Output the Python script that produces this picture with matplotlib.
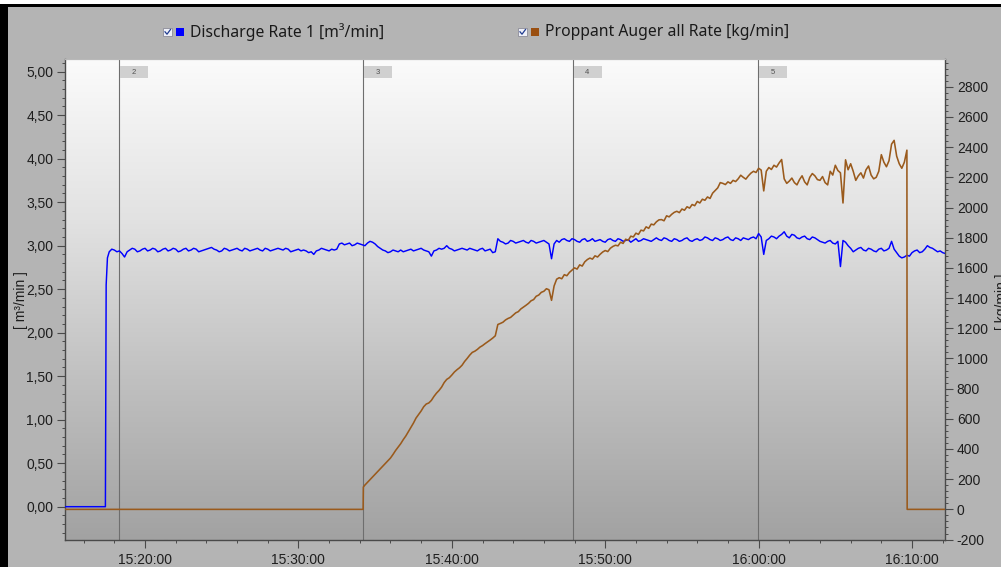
import numpy as np
import pandas as pd
import matplotlib
matplotlib.use("Agg")
import matplotlib.pyplot as plt
import matplotlib.dates as mdates
from matplotlib.patches import Rectangle
from matplotlib.lines import Line2D
from matplotlib.transforms import IdentityTransform
from matplotlib.ticker import MultipleLocator, FuncFormatter
from matplotlib.colors import LinearSegmentedColormap

plt.rcParams["font.family"] = ["Liberation Sans", "DejaVu Sans"]

DAY = "2024-05-14 "

# ---------------- data ----------------
x_start = "15:14:47"
x_end = "16:12:09"
sample_step = "10s"

# Discharge Rate 1 [m3/min]
discharge_lead_times = ["15:14:47", "15:17:25", "15:17:28", "15:17:33"]
discharge_lead_values = [0.0, 0.0, 2.55, 2.86]
discharge_grid_start = "15:17:40"
discharge_values = [
    2.93, 2.96, 2.95, 2.93, 2.94, 2.91,  2.87, 2.93, 2.95, 2.97, 2.96, 2.93,
    2.94, 2.96, 2.97, 2.94, 2.95, 2.97,  2.96, 2.93, 2.94, 2.96, 2.97, 2.94,
    2.95, 2.97, 2.96, 2.93, 2.94, 2.96,  2.97, 2.94, 2.95, 2.97, 2.96, 2.93,
    2.94, 2.95, 2.96, 2.97, 2.98, 2.96,  2.95, 2.93, 2.94, 2.97, 2.96, 2.94,
    2.95, 2.96, 2.97, 2.95, 2.94, 2.97,  2.96, 2.94, 2.95, 2.96, 2.97, 2.95,
    2.94, 2.97, 2.96, 2.94, 2.95, 2.96,  2.97, 2.96, 2.95, 2.97, 2.96, 2.93,
    2.94, 2.95, 2.96, 2.94, 2.95, 2.94,  2.92, 2.93, 2.90, 2.94, 2.95, 2.97,
    2.96, 2.95, 2.94, 2.96, 2.95, 2.96,  3.02, 3.03, 3.01, 3.02, 3.03, 3.00,
    3.01, 3.03, 3.02, 3.01, 3.00, 3.03,  3.05, 3.04, 3.02, 2.99, 2.97, 2.95,
    2.94, 2.92, 2.93, 2.95, 2.94, 2.93,  2.95, 2.93, 2.94, 2.95, 2.96, 2.94,
    2.95, 2.96, 2.97, 2.95, 2.94, 2.93,  2.88, 2.94, 2.95, 2.97, 2.96, 2.97,
    3.00, 2.97, 2.96, 2.94, 2.95, 2.96,  2.97, 2.96, 2.95, 2.97, 2.96, 2.95,
    2.94, 2.96, 2.97, 2.94, 2.95, 2.96,  2.92, 2.93, 3.08, 3.05, 3.04, 3.02,
    3.03, 3.06, 3.05, 3.03, 3.04, 3.05,  3.06, 3.04, 3.03, 3.06, 3.05, 3.03,
    3.04, 3.05, 3.06, 3.04, 3.02, 2.85,  3.02, 3.06, 3.04, 3.07, 3.08, 3.06,
    3.05, 3.08, 3.07, 3.05, 3.04, 3.07,  3.08, 3.05, 3.06, 3.08, 3.05, 3.06,
    3.07, 3.05, 3.04, 3.07, 3.08, 3.06,  3.05, 3.08, 3.07, 3.05, 3.06, 3.07,
    3.04, 3.06, 3.08, 3.05, 3.06, 3.08,  3.07, 3.06, 3.05, 3.07, 3.09, 3.07,
    3.06, 3.09, 3.08, 3.06, 3.05, 3.08,  3.07, 3.05, 3.06, 3.08, 3.09, 3.06,
    3.05, 3.07, 3.08, 3.06, 3.07, 3.10,  3.09, 3.07, 3.06, 3.09, 3.08, 3.06,
    3.07, 3.09, 3.10, 3.07, 3.06, 3.09,  3.08, 3.06, 3.09, 3.08, 3.07, 3.09,
    3.10, 3.08, 3.14, 3.10, 2.90, 3.06,  3.08, 3.11, 3.10, 3.08, 3.11, 3.13,
    3.16, 3.11, 3.09, 3.13, 3.12, 3.09,  3.08, 3.10, 3.11, 3.08, 3.07, 3.10,
    3.09, 3.07, 3.05, 3.04, 3.03, 3.05,  3.06, 3.03, 3.02, 3.05, 2.76, 3.06,
    3.04, 3.00, 2.97, 2.93, 2.95, 2.97,  2.98, 2.95, 2.94, 2.97, 2.96, 2.94,
    2.93, 2.96, 2.97, 2.94, 2.95, 2.97,  3.05, 2.96, 2.92, 2.88, 2.86, 2.87,
    2.89, 2.88, 2.92, 2.94, 2.95, 2.92,  2.93, 2.96, 3.00, 2.98, 2.97, 2.95,
    2.93, 2.94, 2.92, 2.91, 2.91, 2.90,
]

# Proppant Auger all Rate [kg/min]
proppant_lead_times = ["15:14:47", "15:34:13", "15:34:14"]
proppant_lead_values = [0.0, 0.0, 148.0]
proppant_grid_start = "15:34:20"
proppant_values = [
    161, 179, 197, 214,
    232, 250, 268, 286, 304, 322,
    340, 364, 390, 412, 435, 462,
    486, 515, 545, 572, 605, 628,
    652, 680, 698, 705, 722, 748,
    770, 788, 810, 840, 861, 872,
    890, 910, 925, 938, 955, 980,
    1000, 1022, 1040, 1048, 1060, 1075,
    1085, 1098, 1110, 1122, 1135, 1150,
    1225, 1232, 1240, 1255, 1265, 1272,
    1287, 1302, 1310, 1328, 1340, 1352,
    1365, 1382, 1390, 1412, 1420, 1438,
    1445, 1462, 1455, 1385, 1480, 1525,
    1535, 1528, 1555, 1548, 1570, 1585,
    1600, 1592, 1620, 1612, 1640, 1655,
    1665, 1658, 1680, 1672, 1690, 1705,
    1715, 1708, 1730, 1742, 1750, 1746,
    1770, 1762, 1790, 1782, 1810, 1805,
    1830, 1822, 1850, 1845, 1872, 1862,
    1890, 1885, 1905, 1918, 1920, 1912,
    1945, 1938, 1955, 1968, 1975, 1966,
    1990, 1982, 2005, 1996, 2020, 2012,
    2040, 2030, 2055, 2048, 2070, 2060,
    2095, 2112, 2130, 2165, 2160, 2152,
    2170, 2160, 2180, 2172, 2190, 2214,
    2200, 2188, 2210, 2228, 2240, 2232,
    2260, 2248, 2110, 2240, 2265, 2252,
    2280, 2268, 2295, 2318, 2190, 2160,
    2175, 2195, 2165, 2150, 2185, 2210,
    2170, 2150, 2200, 2225, 2210, 2185,
    2180, 2205, 2165, 2150, 2240, 2215,
    2280, 2245, 2230, 2030, 2316, 2250,
    2290, 2240, 2180, 2210, 2230, 2195,
    2250, 2275, 2215, 2190, 2200, 2240,
    2350, 2300, 2270, 2310, 2420, 2445,
    2340, 2290, 2260, 2300, 2380,
]
proppant_tail_times = ["16:09:41", "16:12:09"]
proppant_tail_values = [0.0, 0.0]

marker_times = ["15:18:19", "15:34:14", "15:47:53", "15:59:59"]
marker_labels = ["2", "3", "4", "5"]

legend_labels = ["Discharge Rate 1 [m\u00b3/min]", "Proppant Auger all Rate [kg/min]"]
left_label = "[ m\u00b3/min ]"
right_label = "[ kg/min ]"

# ---------------- build series ----------------
def ts(s):
    return pd.Timestamp(DAY + s)

d_times = [ts(s) for s in discharge_lead_times] + list(
    pd.date_range(ts(discharge_grid_start), periods=len(discharge_values), freq=sample_step))
d_vals = discharge_lead_values + discharge_values

p_times = ([ts(s) for s in proppant_lead_times]
           + list(pd.date_range(ts(proppant_grid_start), periods=len(proppant_values), freq=sample_step))
           + [ts(s) for s in proppant_tail_times])
p_vals = proppant_lead_values + proppant_values + proppant_tail_values

# ---------------- figure ----------------
W, H = 1001, 567
fig = plt.figure(figsize=(W / 100, H / 100), dpi=100)
fig.patch.set_facecolor("#b4b4b4")

L, R, B, T = 65, 945, 540, 59
pos = [L / W, 1 - B / H, (R - L) / W, (B - T) / H]

bg = fig.add_axes(pos, zorder=-1)
grad_cmap = LinearSegmentedColormap.from_list("g", ["#fbfbfb", "#e2e2e2", "#c0c0c0", "#a2a2a2"])
bg.imshow(np.linspace(0, 1, 256).reshape(-1, 1), cmap=grad_cmap, aspect="auto",
          extent=[0, 1, 0, 1], interpolation="bilinear")
bg.set_axis_off()

ax = fig.add_axes(pos)
ax.patch.set_alpha(0)
ax2 = ax.twinx()
ax2.patch.set_visible(False)

tick_col = "#1e1e1e"
spine_col = "#4a4a4a"

ax.plot(d_times, d_vals, color="#0000ff", lw=1.05, zorder=3)
ax2.plot(p_times, p_vals, color="#9a5a1c", lw=1.15, zorder=3)

ax.set_xlim(ts(x_start), ts(x_end))
ax.set_ylim(-0.383, 5.146)
ax2.set_ylim(-203, 2984)

for t in marker_times:
    ax.axvline(ts(t), color="#6e6e6e", lw=0.8, zorder=2)

ax.xaxis.set_major_locator(mdates.MinuteLocator(byminute=range(0, 60, 10)))
ax.xaxis.set_minor_locator(mdates.MinuteLocator(byminute=range(0, 60, 2)))
ax.xaxis.set_major_formatter(mdates.DateFormatter("%H:%M:%S"))

ax.yaxis.set_major_locator(MultipleLocator(0.5))
ax.yaxis.set_minor_locator(MultipleLocator(0.1))
ax.yaxis.set_major_formatter(FuncFormatter(lambda v, p: f"{v:.2f}".replace(".", ",")))

ax2.yaxis.set_major_locator(MultipleLocator(200))
ax2.yaxis.set_minor_locator(MultipleLocator(40))
ax2.yaxis.set_major_formatter(FuncFormatter(lambda v, p: f"{int(round(v))}"))

for a in (ax, ax2):
    a.tick_params(which="major", direction="out", length=5.5, width=0.8, color=spine_col,
                  labelsize=10, labelcolor=tick_col, pad=3)
    a.tick_params(which="minor", direction="out", length=2.5, width=0.7, color=spine_col)
    for s in ("left", "right", "bottom"):
        a.spines[s].set_color(spine_col)
        a.spines[s].set_linewidth(1.0)
    a.spines["top"].set_color("#b8b8b8")
    a.spines["top"].set_linewidth(0.8)
ax.spines["right"].set_visible(False)
ax2.spines["left"].set_visible(False)
ax2.spines["bottom"].set_visible(False)
ax.tick_params(axis="x", pad=4)

# axis titles
fig.text(21 / W, 1 - 300 / H, left_label, rotation=90, ha="center", va="center",
         fontsize=10, color=tick_col)
fig.text(1002 / W, 1 - 302 / H, right_label, rotation=90, ha="center", va="center",
         fontsize=10, color=tick_col)

# marker boxes at the top of the plot
fig.canvas.draw()
itr = IdentityTransform()
ytop = ax.transAxes.transform((0, 1))[1]
for t, lab in zip(marker_times, marker_labels):
    xp = ax.transData.transform((mdates.date2num(ts(t)), 0))[0]
    fig.add_artist(Rectangle((xp + 1, ytop - 19), 28, 12, transform=itr,
                             facecolor="#d0d0d0", edgecolor="none", zorder=5))
    fig.text(xp + 14.5, ytop - 13, lab, transform=itr, ha="center", va="center",
             fontsize=5.5, color="#505050", zorder=6)

# legend
leg_font = ["Noto Sans", "DejaVu Sans"]
leg_items = [(163, "#0000ff", 190, legend_labels[0]),
             (518, "#9a4f10", 545, legend_labels[1])]
for cx, col, tx, txt in leg_items:
    yb = H - 36
    fig.add_artist(Rectangle((cx, yb), 9, 8, transform=itr, facecolor="#eef0f8",
                             edgecolor="#8c8c98", lw=0.6))
    fig.add_artist(Line2D([cx + 2, cx + 4, cx + 7.5], [yb + 4.2, yb + 1.8, yb + 6.5],
                          transform=itr, color="#203c90", lw=0.9))
    fig.add_artist(Rectangle((cx + 13, yb), 8, 8, transform=itr, facecolor=col, edgecolor="none"))
    fig.text(tx, H - 32, txt, transform=itr, ha="left", va="center",
             fontsize=11.3, family=leg_font, color="#1a1a1a")

# screenshot frame
fig.add_artist(Rectangle((0, H - 4), W, 4, transform=itr, facecolor="white", edgecolor="none", zorder=10))
fig.add_artist(Rectangle((0, H - 7), W, 3, transform=itr, facecolor="black", edgecolor="none", zorder=10))
fig.add_artist(Rectangle((0, 0), 8, H - 4, transform=itr, facecolor="black", edgecolor="none", zorder=10))

fig.savefig("out.png", dpi=100, facecolor=fig.get_facecolor())
